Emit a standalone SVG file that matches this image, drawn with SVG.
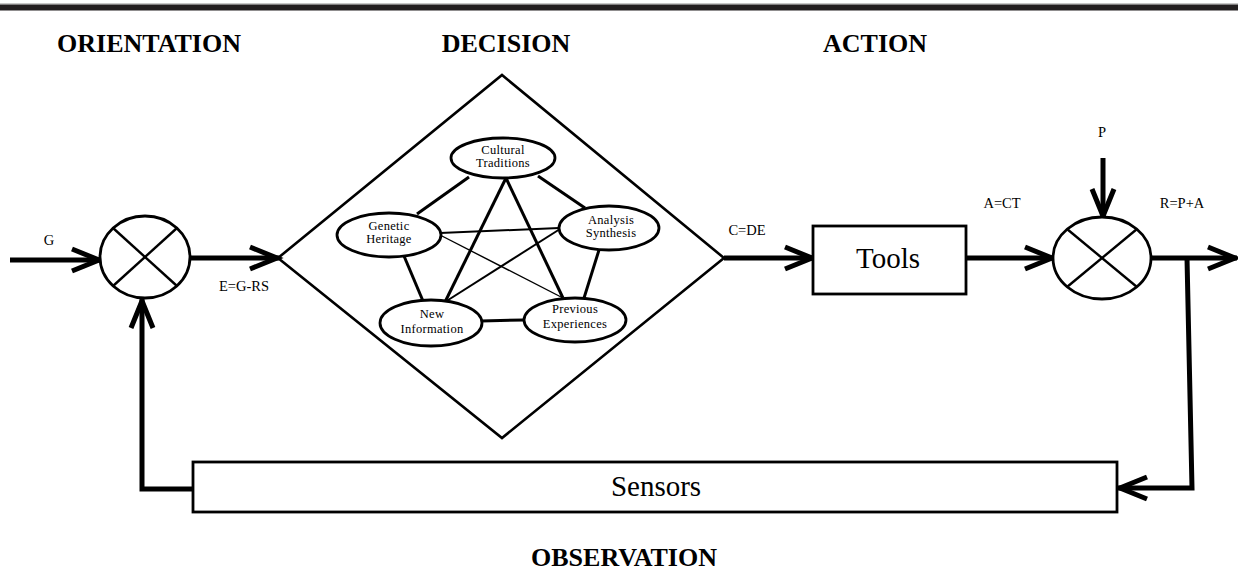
<svg xmlns="http://www.w3.org/2000/svg" width="1238" height="573" viewBox="0 0 1238 573">
<style>
  .stage { font-family: "Liberation Serif", "Times New Roman", serif; font-weight: bold; font-size: 26px; fill: #000; text-anchor: middle; }
  .lbl { font-family: "Liberation Serif", "Times New Roman", serif; font-size: 14.5px; fill: #000; text-anchor: middle; }
  .small { font-family: "Liberation Serif", "Times New Roman", serif; font-size: 12.5px; fill: #000; text-anchor: middle; letter-spacing: 0.3px; }
  .big { font-family: "Liberation Serif", "Times New Roman", serif; font-size: 29px; fill: #000; text-anchor: middle; }
  .shape { fill: #fff; stroke: #000; stroke-width: 2.8; }
  .xmark { stroke: #000; stroke-width: 2.4; }
  .arrow { fill: none; stroke: #000; stroke-width: 5; marker-end: url(#chev); }
  .thick { stroke: #000; stroke-width: 3; }
  .mid { stroke: #000; stroke-width: 2; }
  .thin { stroke: #000; stroke-width: 1.4; }
</style>
<defs>
  <marker id="chev" markerUnits="userSpaceOnUse" markerWidth="44" markerHeight="32" refX="31" refY="11" orient="auto" overflow="visible">
    <path d="M2,0 L29,11 L2,22" fill="none" stroke="#000" stroke-width="5"/>
  </marker>
</defs>
<rect x="0" y="0" width="1238" height="573" fill="#fff"/>
<g id="top-rule">
  <rect x="0" y="3" width="1238" height="1.5" fill="#c8c8c8"/>
  <rect x="0" y="4.5" width="1238" height="6" fill="#231f20"/>
</g>
<g id="stage-labels">
  <text class="stage" x="149" y="52">ORIENTATION</text>
  <text class="stage" x="506" y="52">DECISION</text>
  <text class="stage" x="875" y="52">ACTION</text>
  <text class="stage" x="624" y="566">OBSERVATION</text>
</g>
<g id="connectors">
  <line class="arrow" x1="10" y1="260" x2="101" y2="260"/>
  <line class="arrow" x1="190" y1="258" x2="279" y2="258"/>
  <line class="arrow" x1="724" y1="258" x2="814" y2="258"/>
  <line class="arrow" x1="966" y1="258" x2="1054" y2="258"/>
  <line class="arrow" x1="1103" y1="158" x2="1103" y2="218" stroke-width="6"/>
  <line class="arrow" x1="1151" y1="258" x2="1237" y2="258"/>
  <polyline class="arrow" points="1187,258 1192,488 1118,488"/>
  <polyline class="arrow" points="193,489 142,489 142,299"/>
  <line class="thick" x1="469" y1="177" x2="417" y2="214"/>
  <line class="thick" x1="538" y1="176" x2="585" y2="208"/>
  <line class="thick" x1="506" y1="178" x2="445" y2="302"/>
  <line class="thick" x1="506" y1="178" x2="563" y2="298"/>
  <line class="thick" x1="404" y1="256" x2="423" y2="301"/>
  <line class="thick" x1="599" y1="250" x2="584" y2="298"/>
  <line class="thick" x1="481" y1="321" x2="524" y2="320"/>
  <line class="mid" x1="440" y1="233" x2="559" y2="228"/>
  <line class="thin" x1="440" y1="235" x2="563" y2="298"/>
  <line class="mid" x1="445" y1="302" x2="560" y2="229"/>
</g>
<g id="node-sum1">
  <ellipse class="shape" cx="145" cy="257" rx="45" ry="41"/>
  <line class="xmark" x1="113" y1="228" x2="177" y2="286"/>
  <line class="xmark" x1="177" y1="228" x2="113" y2="286"/>
</g>
<g id="node-decision">
  <polygon points="278,258 502,75 724,258 502,438" fill="none" stroke="#000" stroke-width="2.6"/>
</g>
<g id="node-cultural">
  <ellipse class="shape" cx="503" cy="158" rx="52" ry="20"/>
  <text class="small" x="503" y="154">Cultural</text>
  <text class="small" x="503" y="167">Traditions</text>
</g>
<g id="node-genetic">
  <ellipse class="shape" cx="389" cy="235" rx="52" ry="22"/>
  <text class="small" x="389" y="230">Genetic</text>
  <text class="small" x="389" y="243">Heritage</text>
</g>
<g id="node-analysis">
  <ellipse class="shape" cx="609" cy="228" rx="50" ry="22"/>
  <text class="small" x="611" y="224">Analysis</text>
  <text class="small" x="611" y="237">Synthesis</text>
</g>
<g id="node-new">
  <ellipse class="shape" cx="431" cy="323" rx="51" ry="23"/>
  <text class="small" x="432" y="318">New</text>
  <text class="small" x="432" y="333">Information</text>
</g>
<g id="node-previous">
  <ellipse class="shape" cx="575" cy="320" rx="51" ry="22"/>
  <text class="small" x="575" y="313">Previous</text>
  <text class="small" x="575" y="328">Experiences</text>
</g>
<g id="node-tools">
  <rect class="shape" x="813" y="226" width="153" height="68" stroke-width="3"/>
  <text class="big" x="888" y="268">Tools</text>
</g>
<g id="node-sum2">
  <ellipse class="shape" cx="1102" cy="258" rx="49" ry="41"/>
  <line class="xmark" x1="1067" y1="229" x2="1137" y2="287"/>
  <line class="xmark" x1="1137" y1="229" x2="1067" y2="287"/>
</g>
<g id="node-sensors">
  <rect class="shape" x="193" y="462" width="924" height="50" stroke-width="3"/>
  <text class="big" x="656" y="496">Sensors</text>
</g>
<g id="labels">
  <text class="lbl" x="49" y="245">G</text>
  <text class="lbl" x="244" y="291">E=G-RS</text>
  <text class="lbl" x="747" y="235">C=DE</text>
  <text class="lbl" x="1002" y="208">A=CT</text>
  <text class="lbl" x="1102" y="137">P</text>
  <text class="lbl" x="1182" y="208">R=P+A</text>
</g>
</svg>
